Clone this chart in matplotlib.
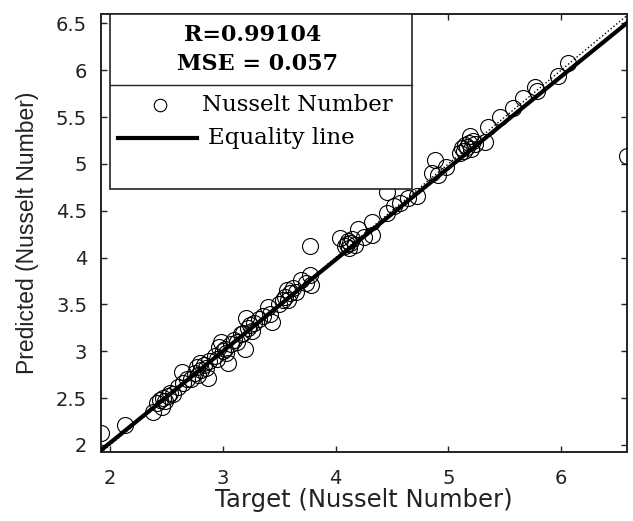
import numpy as np
import matplotlib
matplotlib.use("Agg")
import matplotlib.pyplot as plt
from matplotlib.patches import Rectangle
from matplotlib.lines import Line2D

# Target vs predicted Nusselt number
target = [
    1.92, 2.13,
    2.38, 2.42, 2.44, 2.46, 2.47, 2.49, 2.51, 2.53, 2.56, 2.60,
    2.64, 2.65, 2.68, 2.72, 2.75, 2.77, 2.78, 2.80, 2.81, 2.83, 2.85, 2.87, 2.88,
    2.93, 2.95, 2.97, 2.98, 3.00, 3.02, 3.03, 3.05, 3.07, 3.10,
    3.13, 3.16, 3.18, 3.20, 3.21, 3.22, 3.24, 3.26, 3.28, 3.32, 3.36, 3.40, 3.42, 3.44,
    3.50, 3.53, 3.55, 3.57, 3.58, 3.60, 3.62, 3.65, 3.69, 3.74, 3.77, 3.77, 3.78,
    4.04, 4.08, 4.10, 4.11, 4.12, 4.13, 4.15, 4.17, 4.20, 4.25, 4.32, 4.32,
    4.46, 4.46, 4.52, 4.57, 4.64, 4.72, 4.86, 4.88, 4.91, 4.98,
    5.10, 5.12, 5.14, 5.15, 5.17, 5.18, 5.19, 5.20, 5.22, 5.24, 5.33,
    5.35, 5.46, 5.57, 5.66, 5.77, 5.79, 5.97, 6.06, 6.585,
]
predicted = [
    2.13, 2.21,
    2.35, 2.45, 2.48, 2.41, 2.50, 2.47, 2.52, 2.55, 2.54, 2.62,
    2.78, 2.66, 2.70, 2.70, 2.77, 2.83, 2.75, 2.88, 2.80, 2.85, 2.82, 2.72, 2.90,
    2.95, 2.92, 3.05, 3.10, 3.00, 3.03, 2.98, 2.88, 3.08, 3.12,
    3.10, 3.18, 3.20, 3.03, 3.36, 3.25, 3.28, 3.22, 3.30, 3.35, 3.38, 3.47, 3.40, 3.31,
    3.50, 3.55, 3.58, 3.65, 3.55, 3.62, 3.68, 3.63, 3.76, 3.73, 3.81, 4.12, 3.71,
    4.21, 4.12, 4.15, 4.18, 4.10, 4.16, 4.20, 4.14, 4.31, 4.22, 4.24, 4.38,
    4.70, 4.48, 4.55, 4.58, 4.64, 4.66, 4.90, 5.04, 4.88, 4.97,
    5.12, 5.17, 5.14, 5.20, 5.18, 5.22, 5.30, 5.16, 5.24, 5.21, 5.23,
    5.39, 5.50, 5.60, 5.70, 5.82, 5.78, 5.94, 6.08, 5.09,
]

r_value = 0.99104
mse_value = 0.057
fit_slope = 0.9775
fit_intercept = 0.068

x_range = (1.92, 6.585)
y_range = (1.925, 6.60)

fig = plt.figure(figsize=(6.33, 5.21), dpi=100)
ax = fig.add_axes([0.1596, 0.1324, 0.8309, 0.8406])

ax.plot(target, predicted, 'o', mfc='none', mec='black', ms=11.5, mew=0.8, zorder=3)

# equality (Y = T) dotted and fitted line solid
xx = np.array(x_range)
ax.plot(xx, xx, ':', color='black', lw=1.0, zorder=2)
ax.plot(xx, fit_slope * xx + fit_intercept, '-', color='black', lw=3.0, zorder=4)

ax.set_xlim(*x_range)
ax.set_ylim(*y_range)
ax.set_xticks([2, 3, 4, 5, 6])
ax.set_yticks([2, 2.5, 3, 3.5, 4, 4.5, 5, 5.5, 6, 6.5])
ax.set_xticklabels(['2', '3', '4', '5', '6'])
ax.set_yticklabels(['2', '2.5', '3', '3.5', '4', '4.5', '5', '5.5', '6', '6.5'])
ax.tick_params(direction='in', length=4, width=1, top=True, right=True,
               labelsize=14, colors='#222222')
ax.tick_params(axis='x', pad=12)
ax.tick_params(axis='y', pad=10)
for lab in ax.get_xticklabels() + ax.get_yticklabels():
    lab.set_family('DejaVu Sans')
for sp in ax.spines.values():
    sp.set_linewidth(1.4)
    sp.set_color('#222222')

ax.set_xlabel('Target (Nusselt Number)', fontsize=17.5, family='DejaVu Sans',
              color='#222222', va='center')
ax.set_ylabel('Predicted (Nusselt Number)', fontsize=16.5, family='Liberation Sans',
              color='#222222', va='center')
ax.xaxis.set_label_coords(0.5, -0.110)
ax.yaxis.set_label_coords(-0.139, 0.5)

# custom legend box
box = Rectangle((0.017, 0.600), 0.574, 0.400, transform=ax.transAxes,
                facecolor='white', edgecolor='#222222', lw=1.2, zorder=6)
ax.add_patch(box)
ax.add_line(Line2D([0.017, 0.591], [0.838, 0.838], transform=ax.transAxes,
                   color='#222222', lw=1.0, zorder=7))
ax.text(0.289, 0.952, f'R={r_value}', transform=ax.transAxes, ha='center', va='center',
        fontsize=16, fontweight='bold', family='DejaVu Serif', zorder=8)
ax.text(0.298, 0.886, f'MSE = {mse_value}', transform=ax.transAxes, ha='center', va='center',
        fontsize=16, fontweight='bold', family='DejaVu Serif', zorder=8)
ax.plot([0.112], [0.792], 'o', mfc='none', mec='black', ms=9, mew=0.8,
        transform=ax.transAxes, zorder=8)
ax.text(0.192, 0.792, 'Nusselt Number', transform=ax.transAxes, ha='left', va='center',
        fontsize=16.5, family='DejaVu Serif', zorder=8)
ax.add_line(Line2D([0.032, 0.183], [0.717, 0.717], transform=ax.transAxes,
                   color='black', lw=3.0, zorder=8))
ax.text(0.203, 0.717, 'Equality line', transform=ax.transAxes, ha='left', va='center',
        fontsize=16.5, family='DejaVu Serif', zorder=8)

fig.savefig('out.png', dpi=100)
